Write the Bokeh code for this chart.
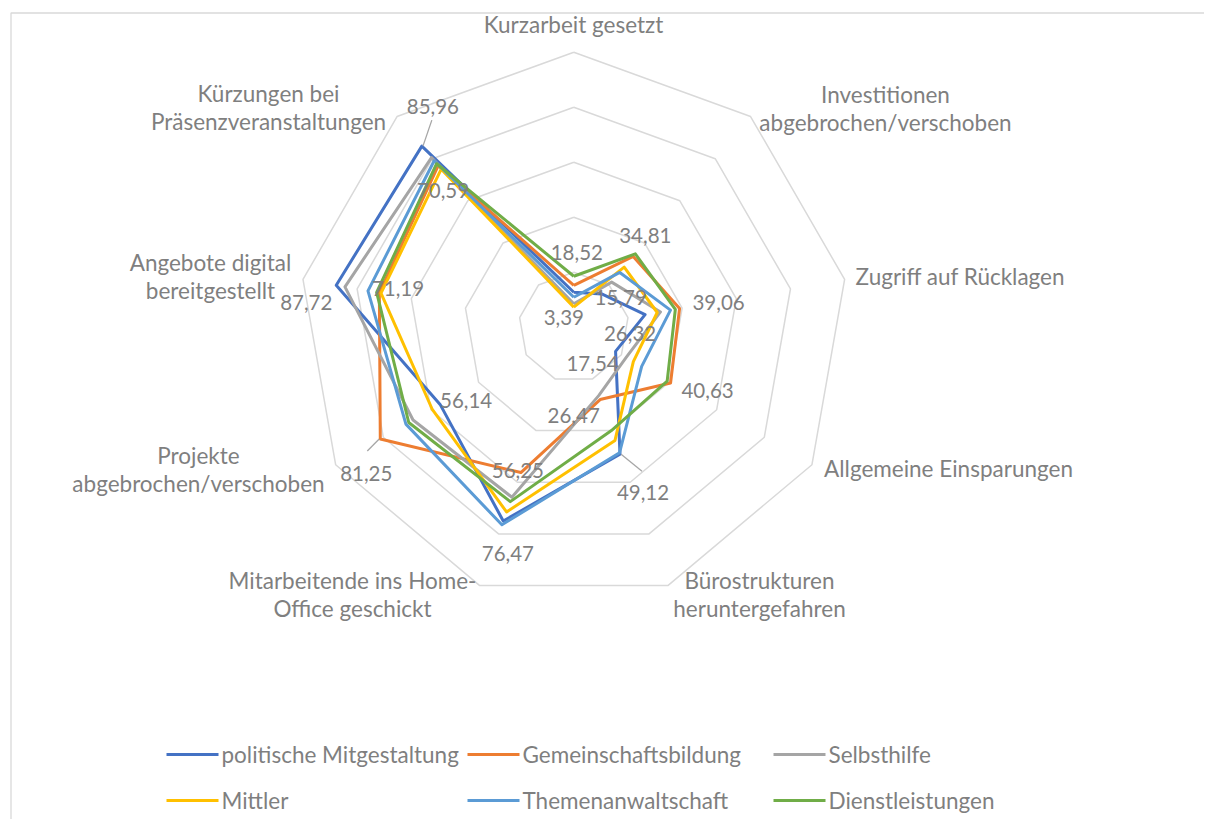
import numpy as np
from bokeh.plotting import figure
from bokeh.models import Range1d
from bokeh.core.properties import value
from bokeh.embed import file_html
from bokeh.resources import INLINE

# ---------------- data ----------------
categories = [
    "Kurzarbeit gesetzt",
    "Investitionen\nabgebrochen/verschoben",
    "Zugriff auf Rücklagen",
    "Allgemeine Einsparungen",
    "Bürostrukturen\nheruntergefahren",
    "Mitarbeitende ins Home-\nOffice geschickt",
    "Projekte\nabgebrochen/verschoben",
    "Angebote digital\nbereitgestellt",
    "Kürzungen bei\nPräsenzveranstaltungen",
]
series_names = ["politische Mitgestaltung", "Gemeinschaftsbildung", "Selbsthilfe",
                "Mittler", "Themenanwaltschaft", "Dienstleistungen"]
politische = [12.7, 15.79, 26.32, 17.54, 49.12, 75.0, 56.14, 87.72, 85.96]
gemeinschaft = [15.2, 33.6, 39.06, 40.63, 28.0, 56.25, 81.25, 71.8, 76.7]
selbsthilfe = [8.5, 21.4, 32.0, 22.0, 26.47, 65.8, 67.5, 84.5, 80.5]
mittler = [7.3, 28.5, 30.8, 25.0, 43.8, 71.5, 59.5, 71.19, 75.0]
themen = [10.9, 26.0, 35.7, 28.5, 48.6, 76.47, 70.5, 76.0, 79.0]
dienst = [18.52, 34.81, 37.5, 39.2, 40.0, 67.5, 69.3, 72.8, 77.6]
series_values = [politische, gemeinschaft, selbsthilfe, mittler, themen, dienst]
series_colors = ["#4472C4", "#ED7D31", "#A5A5A5", "#FFC000", "#5B9BD5", "#70AD47"]

ring_values = [20, 40, 60, 80, 100]

# data labels: (axis index, printed value)
label_axis = [8, 8, 0, 0, 1, 1, 2, 2, 3, 3, 4, 4, 5, 5, 6, 6, 7, 7]
label_values = [85.96, 70.59, 18.52, 3.39, 34.81, 15.79, 39.06, 26.32, 40.63, 17.54,
                49.12, 26.47, 76.47, 56.25, 81.25, 56.14, 87.72, 71.19]

# ---------------- layout ----------------
W, H = 1204, 819
CX, CY = 573.3, 326.7      # screen pixel of radar centre
S = 2.75                   # px per value unit
FONT = value("Lato")
GREY_TXT = "#7f7f7f"
CAT_SIZE = "22.5px"
LAB_SIZE = "20.5px"


def pg(px, py):
    return (px - CX) / S, (CY - py) / S


n = len(categories)
ang = np.deg2rad(np.arange(n) * 360.0 / n)


def pt(v, k):
    return v * np.sin(ang[k]), v * np.cos(ang[k])


p = figure(width=W, height=H, output_backend="svg", toolbar_location=None,
           x_range=Range1d(-CX / S, (W - CX) / S),
           y_range=Range1d((CY - H) / S, CY / S),
           min_border=0)
p.axis.visible = False
p.grid.visible = False
p.outline_line_color = None
p.background_fill_color = "white"
p.border_fill_color = "white"

# chart frame
x0, y0 = pg(10.5, 12.5)
x1, _ = pg(1215, 12.5)
_, y1 = pg(10.5, 830)
p.line([x1, x0, x0], [y0, y0, y1], line_color="#d9d9d9", line_width=1.3)

# rings
for r in ring_values:
    xs = [pt(r, k)[0] for k in list(range(n)) + [0]]
    ys = [pt(r, k)[1] for k in list(range(n)) + [0]]
    p.line(xs, ys, line_color="#d9d9d9", line_width=1.5)

# series
for vals, col in zip(series_values, series_colors):
    xs = [pt(vals[k], k)[0] for k in list(range(n)) + [0]]
    ys = [pt(vals[k], k)[1] for k in list(range(n)) + [0]]
    p.line(xs, ys, line_color=col, line_width=3, line_join="round")

# category labels (block centres, px)
cat_pos = [(573, 24), (885, 108), (960, 276), (948, 468), (759, 594),
           (352, 594), (198, 469), (210, 276), (268, 107)]
for c, (px, py) in zip(categories, cat_pos):
    x, y = pg(px, py)
    p.text([x], [y], text=[c], text_align="center", text_baseline="middle",
           text_font=FONT, text_font_size=CAT_SIZE, text_color=GREY_TXT,
           text_line_height=1.07)

# data labels offsets from their point (px)
lab_off = [(11, -40), (-6, 12), (3, -24), (-10, 0), (10, -18), (19, 4), (39, -6),
           (-15, 19), (37, 7), (-23, 12), (23, 38), (-25, 20), (6, 29), (-3, -2),
           (-14, 35), (26, -4), (-30, 17), (17, -5)]
leader = {0: (10, -26), 10: (22, 17), 14: (-13, 12)}
for i, (k, v) in enumerate(zip(label_axis, label_values)):
    bx, by = pt(v, k)
    dx, dy = lab_off[i]
    tx, ty = bx + dx / S, by - dy / S
    if i in leader:
        lx, ly = leader[i]
        p.line([bx + np.sign(lx) * 0.4, bx + lx / S], [by, by - ly / S],
               line_color="#a6a6a6", line_width=1.3)
    txt = f"{v:.2f}".replace(".", ",")
    p.text([tx], [ty], text=[txt], text_align="center", text_baseline="middle",
           text_font=FONT, text_font_size=LAB_SIZE, text_color=GREY_TXT)

# legend
col_x = [166, 467, 773]
row_y = [754, 800]
for i, (name, col) in enumerate(zip(series_names, series_colors)):
    cx_ = col_x[i % 3]
    cy_ = row_y[i // 3]
    ax, ay = pg(cx_, cy_)
    bx, _ = pg(cx_ + 52, cy_)
    p.line([ax, bx], [ay, ay], line_color=col, line_width=3)
    tx, ty = pg(cx_ + 55, cy_)
    p.text([tx], [ty], text=[name], text_align="left", text_baseline="middle",
           text_font=FONT, text_font_size=CAT_SIZE, text_color=GREY_TXT)

open("out.html", "w").write(file_html(p, INLINE))
